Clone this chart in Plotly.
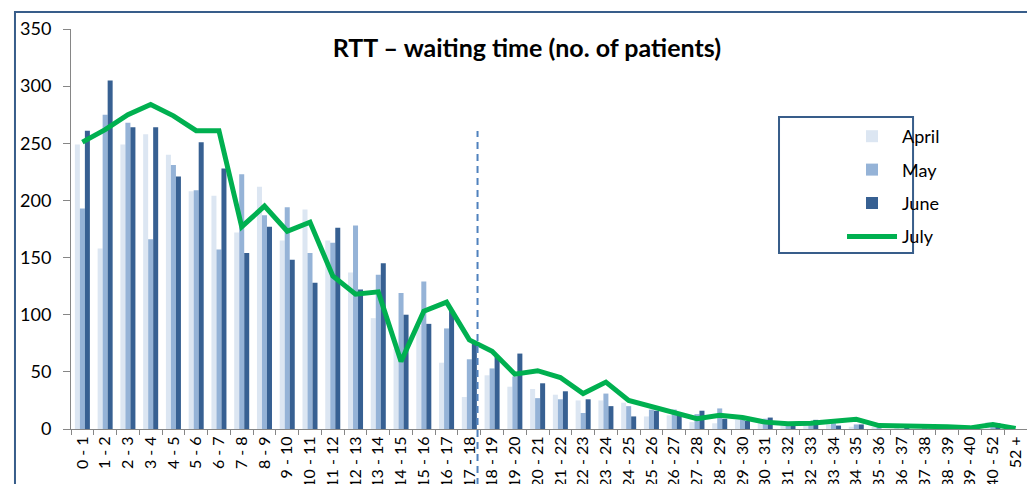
import plotly.graph_objects as go

# Waiting-time bands (weeks)
categories = [f"{i} - {i + 1}" for i in range(40)] + ["40 - 52", "52 +"]

april = [249, 158, 249, 258, 240, 208, 204, 172, 212, 165,
         192, 165, 137, 97, 70, 90, 58, 28, 47, 37,
         35, 30, 25, 25, 23, 11, 12, 6, 5, 8,
         5, 4, 6, 4, 2, 1, 1, 0, 1, 0,
         6, 0]
may = [193, 275, 268, 166, 231, 209, 157, 223, 187, 194,
       154, 163, 178, 135, 119, 129, 88, 61, 53, 46,
       27, 26, 14, 31, 20, 17, 17, 13, 18, 8,
       9, 3, 4, 5, 4, 1, 0, 1, 0, 1,
       5, 0]
june = [261, 305, 264, 264, 221, 251, 228, 154, 177, 148,
        128, 176, 122, 145, 100, 92, 104, 76, 63, 66,
        40, 33, 26, 20, 11, 16, 12, 16, 9, 7,
        10, 3, 8, 3, 4, 0, 1, 0, 0, 0,
        5, 0]
july = [251, 262, 275, 284, 274, 261, 261, 177, 195, 173,
        181, 134, 118, 120, 59, 103, 111, 78, 68, 48,
        51, 45, 31, 41, 25, 20, 14, 9, 12, 10,
        6, 4.5, 5, 7, 8.5, 3, 3, 3, 2, 1,
        4, 0.5]

FONT = "Lato"

fig = go.Figure()
fig.add_bar(x=categories, y=april, name="April", marker_color="#DCE6F2",
            marker_line_width=0, legendgroup="a")
fig.add_bar(x=categories, y=may, name="May", marker_color="#95B3D7",
            marker_line_width=0, legendgroup="b")
fig.add_bar(x=categories, y=june, name="June", marker_color="#376092",
            marker_line_width=0, legendgroup="c")
fig.add_scatter(x=categories, y=july, name="July", mode="lines",
                line=dict(color="#00B050", width=5), legendgroup="d")

# dashed divider between the 18-week bands
fig.add_shape(type="line", xref="x", yref="paper", x0=17.36, x1=17.36,
              y0=-0.14, y1=0.745,
              line=dict(color="#4F81BD", width=2, dash="7px,5px"))

# outer chart frame
fig.add_shape(type="rect", xref="paper", yref="paper",
              x0=-0.0586, x1=1.02, y0=-0.2, y1=1.0425,
              line=dict(color="#385D8A", width=2), layer="below")

# legend frame
fig.add_shape(type="rect", xref="paper", yref="paper",
              x0=0.7406, x1=0.8808, y0=0.44, y1=0.78,
              line=dict(color="#385D8A", width=2), fillcolor="white",
              layer="below")

fig.update_layout(
    width=1027, height=484,
    margin=dict(l=71, r=0, t=29, b=55, autoexpand=False),
    paper_bgcolor="white", plot_bgcolor="white",
    barmode="group", bargap=0.34, bargroupgap=0,
    font=dict(family=FONT, color="black"),
    title=dict(text="<b>RTT \u2013 waiting time (no. of patients)</b>",
               x=0.513, xref="container", xanchor="center",
               y=0.9, yref="container", yanchor="middle",
               font=dict(family=FONT, size=25, color="black")),
    legend=dict(x=0.8065, xanchor="left", y=0.7775, yanchor="top",
                bgcolor="rgba(0,0,0,0)", borderwidth=0,
                font=dict(family=FONT, size=18, color="black"),
                traceorder="grouped", tracegroupgap=7, itemwidth=50),
    xaxis=dict(type="category", range=[-0.5, 41.5], automargin=False,
               showline=True, linecolor="#868686", linewidth=1,
               ticks="outside", tickson="boundaries", ticklen=5,
               tickcolor="#868686", tickangle=-90,
               tickfont=dict(family=FONT, size=16, color="black"),
               showgrid=False, zeroline=False),
    yaxis=dict(range=[0, 350], dtick=50, showline=True, automargin=False,
               linecolor="#868686", linewidth=1, ticks="outside",
               ticklen=7, tickcolor="#868686", ticklabelstandoff=8,
               tickfont=dict(family=FONT, size=18, color="black"),
               showgrid=False, zeroline=False),
)

fig.write_html("out.html")
